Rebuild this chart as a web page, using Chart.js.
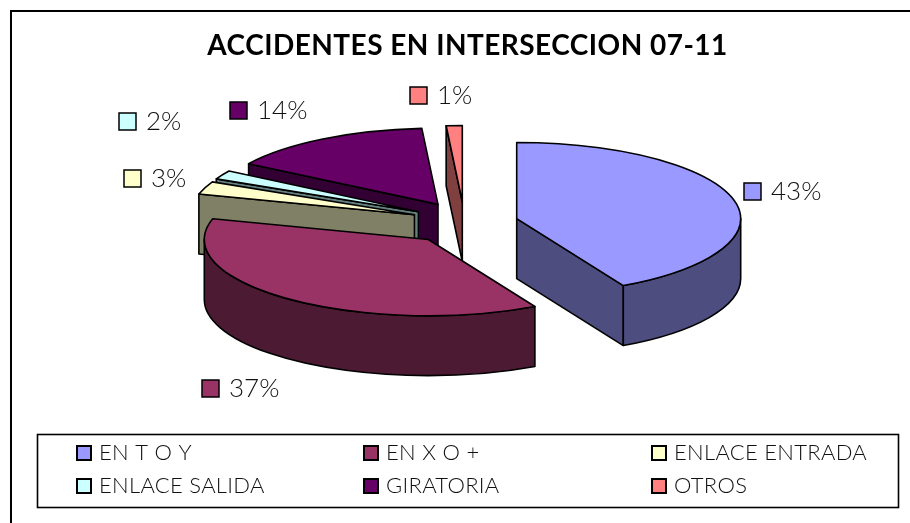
<!DOCTYPE html>
<html><head><meta charset="utf-8">
<style>
html,body{margin:0;padding:0;background:#fff;width:910px;height:523px;overflow:hidden}
#frame{position:absolute;left:10px;top:10px;width:920px;height:540px;border:2px solid #000;box-sizing:border-box}
#wrap{position:absolute;left:29px;top:0;width:884px;height:523px}
</style>
<script src="https://cdn.jsdelivr.net/npm/chart.js@4"></script>
</head><body>
<div id="frame"></div>
<div id="wrap"><canvas id="c" width="884" height="523"></canvas></div>
<script>
const categories = ['EN T O Y','EN X O +','ENLACE ENTRADA','ENLACE SALIDA','GIRATORIA','OTROS'];
const values = [43,37,3,2,14,1];
const topColors = ['#9999FF','#993366','#FFFFCC','#CCFFFF','#660066','#FF8080'];
const sideColors = ['#4D4D80','#4D1A33','#808066','#668080','#330033','#804040'];
const titleText = 'ACCIDENTES EN INTERSECCION 07-11';
const drawOrder = [5,4,3,2,1,0];
const labelPlaces = [[744,183],[202,380],[124,170],[119,113],[230,102],[410,87]];
const legendPlaces = [[77,446],[364,446],[652,446],[77,479],[364,479],[652,479]];

const SHIFT = 29, SQUASH = 0.34, EXPLODE_SQUASH = 0.4, DEPTH = 60, WARP = 1.15, PIE_NUDGE = -3.5;
const FONT = 'Lato, "Open Sans", sans-serif';

// 3D view: angles spread slightly away from the vertical axis, as in the original projection
function warp(a){
  const w=Math.atan2(Math.sin(a),WARP*Math.cos(a));
  return w+2*Math.PI*Math.round((a-w)/(2*Math.PI));
}

const pie3d = {
  id:'pie3d',
  beforeDraw(chart){ chart.ctx.letterSpacing='0.47px'; },
  beforeDatasetDraw(chart,args){
    const ctx=chart.ctx, arcs=chart.getDatasetMeta(args.index).data;
    ctx.letterSpacing='0px';
    ctx.save();
    ctx.lineWidth=1.6; ctx.strokeStyle='#000'; ctx.lineJoin='round';
    drawOrder.forEach(i=>{
      const a=arcs[i], p=a.getProps(['x','y','startAngle','endAngle','outerRadius']);
      const mid=(p.startAngle+p.endAngle)/2, d=a.options.offset;
      const cx=p.x+PIE_NUDGE+Math.cos(mid)*d, cy=p.y+Math.sin(mid)*d*EXPLODE_SQUASH;
      const R=p.outerRadius, r=R*SQUASH;
      const s=warp(p.startAngle), e=warp(p.endAngle);
      const pt=t=>[cx+R*Math.cos(t),cy+r*Math.sin(t)];
      ctx.fillStyle=sideColors[i];
      const faces=[];
      if(Math.cos(s)<-1e-6) faces.push(s);
      if(Math.cos(e)>1e-6) faces.push(e);
      faces.forEach(t=>{
        const q=pt(t);
        ctx.beginPath();ctx.moveTo(cx,cy);ctx.lineTo(q[0],q[1]);
        ctx.lineTo(q[0],q[1]+DEPTH);ctx.lineTo(cx,cy+DEPTH);ctx.closePath();
        ctx.fill();ctx.stroke();
      });
      const f0=Math.max(s,0), f1=Math.min(e,Math.PI);
      if(f1>f0){
        ctx.beginPath();
        ctx.ellipse(cx,cy,R,r,0,f0,f1);
        ctx.ellipse(cx,cy+DEPTH,R,r,0,f1,f0,true);
        ctx.closePath();ctx.fill();ctx.stroke();
      }
      ctx.fillStyle=a.options.backgroundColor;
      ctx.beginPath();ctx.moveTo(cx,cy);
      ctx.ellipse(cx,cy,R,r,0,s,e);
      ctx.closePath();ctx.fill();ctx.stroke();
    });
    ctx.restore();
    return false;
  },
  afterDraw(chart){
    const ctx=chart.ctx;
    ctx.save();
    ctx.textBaseline='middle';ctx.textAlign='left';
    const total=values.reduce((s,v)=>s+v,0);
    ctx.font='300 26px '+FONT;
    values.forEach((v,i)=>{
      const x=labelPlaces[i][0]-SHIFT,y=labelPlaces[i][1];
      ctx.fillStyle=topColors[i];ctx.strokeStyle='#000';ctx.lineWidth=1.5;
      ctx.fillRect(x,y,17,17);ctx.strokeRect(x,y,17,17);
      ctx.fillStyle='#111';
      ctx.fillText(Math.round(v/total*100)+'%',x+27,y+9);
    });
    ctx.strokeStyle='#000';ctx.lineWidth=1.6;
    ctx.strokeRect(37.5-SHIFT,434.5,861,73);
    ctx.font='300 22px '+FONT;ctx.letterSpacing='0.3px';
    categories.forEach((c,i)=>{
      const x=legendPlaces[i][0]-SHIFT,y=legendPlaces[i][1];
      ctx.fillStyle=topColors[i];ctx.lineWidth=2;
      ctx.fillRect(x,y,14,14);ctx.strokeRect(x,y,14,14);
      ctx.fillStyle='#111';
      ctx.fillText(c,x+22,y+6.5);
    });
    ctx.restore();
  }
};

new Chart(document.getElementById('c'),{
  type:'pie',
  data:{labels:categories,datasets:[{data:values,backgroundColor:topColors,borderColor:'#000',borderWidth:1.6,offset:54,radius:224}]},
  options:{
    responsive:false,animation:false,
    layout:{padding:{left:0,right:7,top:0,bottom:140}},
    plugins:{
      legend:{display:false},tooltip:{enabled:false},
      title:{display:true,text:titleText,color:'#000',font:{family:FONT,size:28,weight:'bold',lineHeight:1.2},padding:{top:29,bottom:1}}
    }
  },
  plugins:[pie3d]
});
</script>
</body></html>
